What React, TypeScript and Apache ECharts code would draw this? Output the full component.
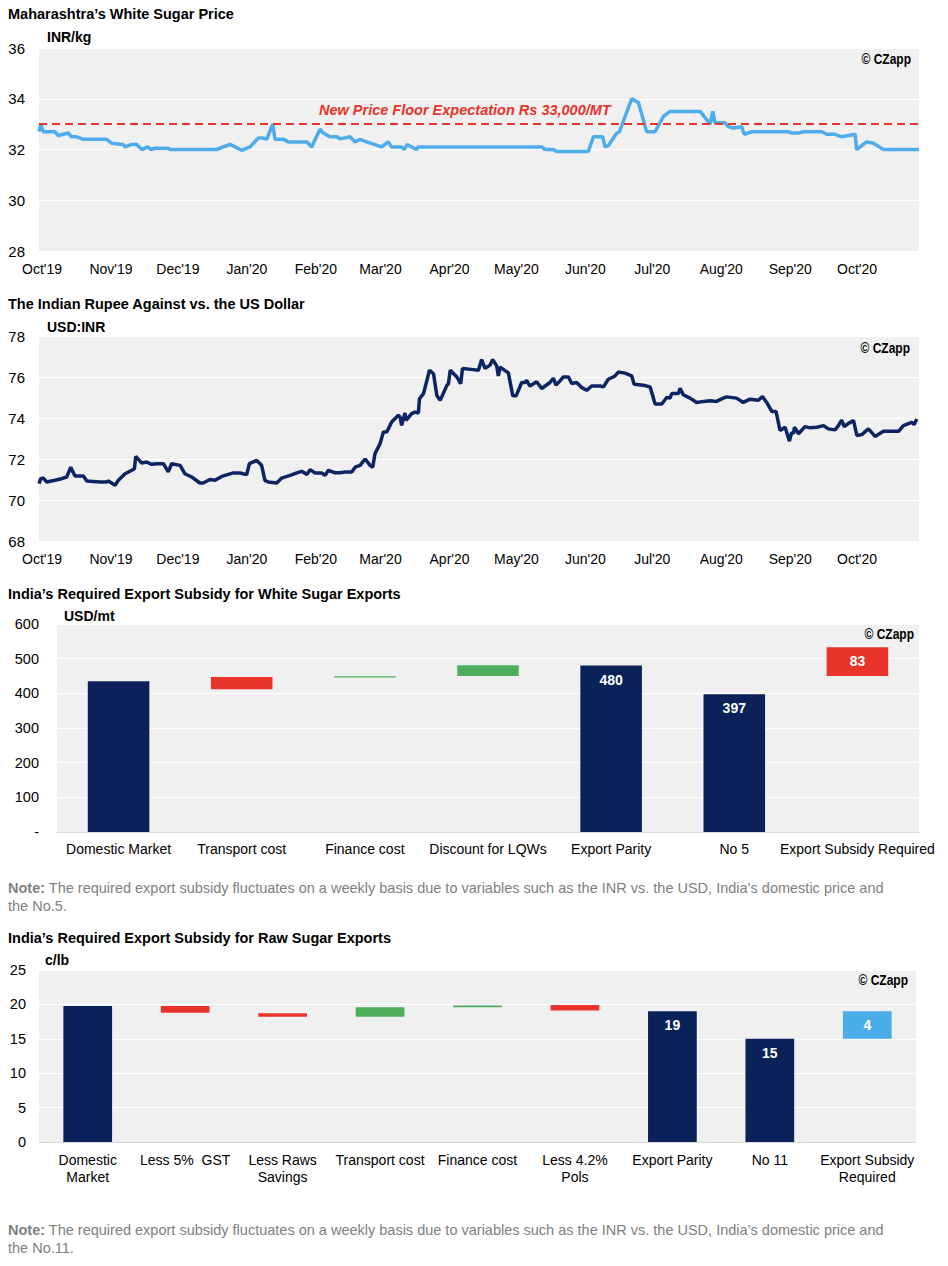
import React, { useEffect, useRef } from 'react';
import * as echarts from 'echarts';

// ---------- DATA ----------
// x values are days counted from 1 Oct 2019
const monthTickDays = [0, 31, 61, 92, 123, 152, 183, 213, 244, 274, 305, 336, 366];
const monthTickLabels = ["Oct'19", "Nov'19", "Dec'19", "Jan'20", "Feb'20", "Mar'20", "Apr'20", "May'20", "Jun'20", "Jul'20", "Aug'20", "Sep'20", "Oct'20"];

const sugarDays = [-1.35, -0.6, 0.6, 5.8, 7.3, 11.8, 13.3, 15.6, 18.6, 29, 31.3, 36.5, 37.3, 40.3, 42.5, 44.8, 47.7, 48.8, 50.7, 56.7, 57.5, 78.4, 84.4, 89.7, 93.4, 97.1, 99.4, 100.9, 103.6, 104.6, 108.4, 110.6, 118.9, 121.1, 124.8, 126.3, 129.3, 132.3, 133.8, 138.3, 140.6, 142.8, 145.8, 152.5, 155.5, 157, 161.5, 162.7, 164, 166, 168, 169, 224.4, 225.9, 229.6, 231.1, 245.3, 247.6, 251.8, 252.8, 254.3, 258.1, 259.3, 264.8, 267.8, 271.5, 275.3, 279, 282, 295.5, 300, 301.2, 302.2, 306.7, 308.2, 310.4, 314.2, 315.3, 318.7, 335.1, 336.6, 339.6, 341.9, 350.1, 352.4, 356.1, 359.1, 362.1, 365.1, 365.8, 370.3, 373.3, 377.8, 393.8];
const sugarPrice = [32.7, 33.0, 32.7, 32.7, 32.55, 32.65, 32.5, 32.5, 32.4, 32.4, 32.25, 32.2, 32.1, 32.2, 32.2, 32.0, 32.1, 32.0, 32.05, 32.05, 32.0, 32.0, 32.2, 31.97, 32.1, 32.45, 32.45, 32.4, 33.0, 32.4, 32.4, 32.3, 32.3, 32.1, 32.8, 32.65, 32.5, 32.5, 32.42, 32.5, 32.3, 32.4, 32.3, 32.1, 32.3, 32.1, 32.1, 32.0, 32.2, 32.1, 32.0, 32.1, 32.1, 32.0, 32.0, 31.92, 31.92, 32.5, 32.5, 32.1, 32.15, 32.65, 32.7, 34.0, 33.85, 32.7, 32.7, 33.3, 33.5, 33.5, 33.0, 33.5, 33.05, 33.05, 32.9, 32.85, 32.9, 32.6, 32.7, 32.7, 32.65, 32.65, 32.7, 32.7, 32.6, 32.6, 32.5, 32.55, 32.6, 32.0, 32.3, 32.25, 32.0, 32.0];
const priceFloor = 33;

const inrDays = [-1.35, -0.6, 0.6, 2.1, 5.8, 8.8, 11.1, 12.9, 14.8, 18.6, 20.1, 26.1, 29.0, 29.8, 32.8, 34.3, 37.3, 40.3, 41.5, 42.1, 44.8, 47.0, 49.3, 51.5, 54.5, 56.7, 58.2, 62.0, 64.2, 67.2, 70.9, 72.4, 75.4, 77.7, 80.7, 85.9, 88.9, 91.9, 93.1, 96.4, 98.6, 100.1, 101.6, 105.4, 107.6, 111.4, 114.4, 116.6, 118.9, 120.4, 122.6, 125.6, 127.1, 128.6, 131.6, 133.8, 136.1, 139.1, 140.6, 142.8, 145.1, 147.3, 148.5, 149.5, 151.8, 153.3, 154.8, 157.0, 160.0, 160.8, 161.5, 163.0, 163.5, 166.0, 167.5, 169.0, 169.5, 171.3, 174.0, 175.8, 177.3, 178.8, 181.8, 182.5, 183.3, 186.3, 188.0, 188.8, 193.7, 196.0, 197.4, 198.9, 201.2, 202.4, 204.2, 204.9, 205.7, 209.4, 211.4, 212.9, 215.4, 216.9, 217.6, 219.1, 222.1, 224.4, 228.1, 229.6, 230.8, 232.6, 234.1, 236.4, 237.9, 240.1, 242.4, 244.6, 246.8, 250.6, 252.1, 254.3, 257.3, 258.8, 261.8, 264.8, 265.9, 270.1, 273.0, 273.8, 275.3, 278.3, 280.5, 282.0, 282.8, 285.8, 286.5, 288.0, 291.0, 294.0, 297.0, 300.0, 302.9, 305.9, 307.4, 311.9, 314.9, 317.9, 321.7, 323.5, 325.4, 327.7, 329.6, 331.4, 333.7, 335.6, 336.7, 337.4, 337.9, 339.7, 342.6, 344.9, 347.9, 350.9, 353.1, 356.1, 357.6, 359.1, 360.2, 362.1, 364.4, 365.9, 368.1, 371.1, 374.1, 377.8, 380.8, 384.6, 386.8, 390.5, 391.6, 392.8];
const usdInr = [70.8, 71.04, 71.07, 70.88, 70.96, 71.04, 71.12, 71.6, 71.17, 71.17, 70.93, 70.88, 70.88, 70.93, 70.72, 70.96, 71.28, 71.45, 71.53, 72.13, 71.8, 71.85, 71.74, 71.77, 71.77, 71.37, 71.77, 71.69, 71.28, 71.12, 70.83, 70.83, 71.0, 70.96, 71.15, 71.32, 71.32, 71.24, 71.77, 71.93, 71.69, 70.96, 70.88, 70.83, 71.07, 71.2, 71.32, 71.4, 71.25, 71.48, 71.32, 71.32, 71.2, 71.45, 71.33, 71.33, 71.37, 71.37, 71.6, 71.69, 72.0, 71.69, 71.6, 72.26, 72.75, 73.32, 73.32, 73.8, 74.13, 74.05, 73.64, 74.24, 73.89, 74.21, 74.29, 74.24, 74.94, 75.19, 76.33, 76.16, 75.1, 74.86, 75.59, 75.67, 76.33, 76.0, 75.67, 76.41, 76.36, 76.33, 76.85, 76.42, 76.58, 76.85, 76.53, 76.05, 76.48, 76.2, 75.08, 75.08, 75.73, 75.73, 75.84, 75.56, 75.77, 75.44, 75.73, 75.94, 75.61, 75.81, 76.0, 76.0, 75.68, 75.73, 75.48, 75.35, 75.56, 75.56, 75.52, 75.89, 76.05, 76.24, 76.19, 76.05, 75.65, 75.6, 75.52, 75.24, 74.68, 74.68, 75.0, 74.97, 75.19, 75.19, 75.45, 75.13, 74.97, 74.76, 74.81, 74.84, 74.81, 74.97, 75.03, 74.97, 74.76, 74.92, 74.87, 75.05, 74.76, 74.32, 74.32, 73.39, 73.55, 72.87, 73.31, 73.23, 73.55, 73.23, 73.58, 73.52, 73.55, 73.63, 73.47, 73.42, 73.63, 73.9, 73.58, 73.74, 73.87, 73.15, 73.19, 73.47, 73.1, 73.35, 73.35, 73.35, 73.63, 73.79, 73.68, 73.95];

const whiteCats = ['Domestic Market', 'Transport cost', 'Finance cost', 'Discount for LQWs', 'Export Parity', 'No 5', 'Export Subsidy Required'];
const whiteBase = [0, 412, 446, 450, 0, 0, 450];
const whiteVals = [435, 35, 3, 31, 480, 397, 83];
const whiteKind = ['total', 'red', 'green', 'green', 'total', 'total', 'red'];
const whiteLabelled = [false, false, false, false, true, true, true];

const rawCats = ['Domestic\nMarket', 'Less 5%  GST', 'Less Raws\nSavings', 'Transport cost', 'Finance cost', 'Less 4.2%\nPols', 'Export Parity', 'No 11', 'Export Subsidy\nRequired'];
const rawBase = [0, 18.8, 18.2, 18.2, 19.6, 19.1, 0, 0, 15];
const rawVals = [19.75, 0.95, 0.5, 1.4, 0.25, 0.8, 19, 15, 4];
const rawKind = ['total', 'red', 'red', 'green', 'green', 'red', 'total', 'total', 'blue'];
const rawLabelled = [false, false, false, false, false, false, true, true, true];

const note5 = 'The required export subsidy fluctuates on a weekly basis due to variables such as the INR vs. the USD, India\u2019s domestic price and\nthe No.5.';
const note11 = 'The required export subsidy fluctuates on a weekly basis due to variables such as the INR vs. the USD, India\u2019s domestic price and\nthe No.11.';

// ---------- STYLE ----------
const FONT = '"Liberation Sans", Arial, Helvetica, sans-serif';
const NAVY = '#0A215A';
const COLORS: Record<string, string> = { total: NAVY, red: '#E8342A', green: '#4FAE5C', blue: '#4BADE8' };
const PLOT_BG = '#f0f0f0';

function lineX(gi: number) {
  return {
    gridIndex: gi, type: 'value', min: -1.35, max: 393.8,
    axisLine: { show: false }, axisTick: { show: false }, splitLine: { show: false },
    axisLabel: {
      customValues: monthTickDays,
      formatter: (v: number) => { const i = monthTickDays.indexOf(Math.round(v)); return i >= 0 ? monthTickLabels[i] : ''; },
      color: '#000', fontSize: 14, fontFamily: FONT, margin: 11,
    },
  };
}
function valY(gi: number, min: number, max: number, interval: number, margin: number, fontSize: number, fmt?: (v: number) => string) {
  return {
    gridIndex: gi, type: 'value', min, max, interval,
    axisLine: { show: false }, axisTick: { show: false },
    splitLine: { lineStyle: { color: '#ffffff', width: 1 } },
    axisLabel: { color: '#000', fontSize, fontFamily: FONT, margin, formatter: fmt },
  };
}
function catX(gi: number, cats: string[], margin: number) {
  return {
    gridIndex: gi, type: 'category', data: cats,
    axisTick: { show: false }, axisLine: { show: true, lineStyle: { color: '#d9d9d9', width: 1 } },
    axisLabel: { interval: 0, color: '#000', fontSize: 14, fontFamily: FONT, margin, lineHeight: 17 },
  };
}
function waterfall(gi: number, stack: string, base: number[], vals: number[], kind: string[], labelled: boolean[]) {
  return [
    { type: 'bar', xAxisIndex: gi, yAxisIndex: gi, stack, data: base, barWidth: '50%', silent: true, itemStyle: { color: 'rgba(0,0,0,0)' } },
    {
      type: 'bar', xAxisIndex: gi, yAxisIndex: gi, stack, barWidth: '50%',
      data: vals.map((v, i) => ({ value: v, itemStyle: { color: COLORS[kind[i]] }, label: { show: labelled[i] } })),
      label: { position: 'insideTop', distance: 7, color: '#fff', fontWeight: 'bold', fontSize: 14, fontFamily: FONT, formatter: (p: any) => String(Math.round(p.value)) },
    },
  ];
}
function txt(x: number, y: number, text: string, size: number, weight: string, opts: any = {}) {
  return { type: 'text', x, y, silent: true, style: { text, fill: '#000', fontSize: size, fontWeight: weight, fontFamily: FONT, verticalAlign: 'middle', align: 'left', ...opts } };
}
function copyright(x: number, y: number) {
  return { type: 'text', x, y, scaleX: 0.8, silent: true, style: { text: '\u00A9 CZapp', fill: '#000', fontSize: 15, fontWeight: 'bold', fontFamily: FONT, verticalAlign: 'middle', align: 'right' } };
}
function note(y: number, text: string) {
  return {
    type: 'text', x: 8, y, silent: true,
    style: { text: '{b|Note:} ' + text, fill: '#808080', fontSize: 14.5, fontFamily: FONT, lineHeight: 18, verticalAlign: 'top', rich: { b: { fontWeight: 'bold', fill: '#808080', fontSize: 14.5, fontFamily: FONT } } },
  };
}

export default function App() {
  const ref = useRef<HTMLDivElement>(null);
  useEffect(() => {
    if (!ref.current) return;
    const chart = echarts.init(ref.current, null, { renderer: 'svg' });
    const gridBase = { show: true, backgroundColor: PLOT_BG, borderWidth: 0, containLabel: false };
    chart.setOption({
      animation: false,
      textStyle: { fontFamily: FONT },
      grid: [
        { ...gridBase, left: 39, top: 48, width: 880, height: 203 },
        { ...gridBase, left: 39, top: 336, width: 880, height: 205 },
        { ...gridBase, left: 57, top: 624, width: 862, height: 208 },
        { ...gridBase, left: 39, top: 970, width: 877, height: 172 },
      ],
      xAxis: [lineX(0), lineX(1), catX(2, whiteCats, 8), catX(3, rawCats, 9)],
      yAxis: [
        valY(0, 28, 36, 2, 14, 15),
        valY(1, 68, 78, 2, 14, 15),
        valY(2, 0, 600, 100, 18, 14.5, (v: number) => (v === 0 ? '-' : String(v))),
        valY(3, 0, 25, 5, 13, 14.5),
      ],
      series: [
        {
          type: 'line', xAxisIndex: 0, yAxisIndex: 0, data: sugarDays.map((d, i) => [d, sugarPrice[i]]),
          showSymbol: false, lineStyle: { color: '#4DACE9', width: 3.5 }, silent: true,
          markLine: { silent: true, symbol: ['none', 'none'], label: { show: false }, lineStyle: { color: '#E8342A', type: [8, 5], width: 2 }, data: [{ yAxis: priceFloor }] },
        },
        {
          type: 'line', xAxisIndex: 1, yAxisIndex: 1, data: inrDays.map((d, i) => [d, usdInr[i]]),
          showSymbol: false, lineStyle: { color: '#0C2461', width: 3.5 }, silent: true,
        },
        ...waterfall(2, 'white', whiteBase, whiteVals, whiteKind, whiteLabelled),
        ...waterfall(3, 'raw', rawBase, rawVals, rawKind, rawLabelled),
      ],
      graphic: [
        txt(8, 14, 'Maharashtra\u2019s White Sugar Price', 14.5, 'bold'),
        txt(47, 37, 'INR/kg', 14, 'bold'),
        copyright(911, 59),
        txt(319, 110, 'New Price Floor Expectation Rs 33,000/MT', 14.5, 'bold', { fill: '#E8342A', fontStyle: 'italic' }),

        txt(8, 304, 'The Indian Rupee Against vs. the US Dollar', 14.5, 'bold'),
        txt(47, 327, 'USD:INR', 14, 'bold'),
        copyright(910, 348),

        txt(8, 594, 'India\u2019s Required Export Subsidy for White Sugar Exports', 14.5, 'bold'),
        txt(64, 616, 'USD/mt', 14, 'bold'),
        copyright(914, 634),
        note(879, note5),

        txt(8, 938, 'India\u2019s Required Export Subsidy for Raw Sugar Exports', 14.5, 'bold'),
        txt(45, 960, 'c/lb', 14, 'bold'),
        copyright(908, 980),
        note(1221, note11),
      ],
    });
    return () => chart.dispose();
  }, []);
  return <div ref={ref} style={{ position: 'absolute', left: 0, top: 0, width: 948, height: 1266, background: '#fff' }} />;
}
